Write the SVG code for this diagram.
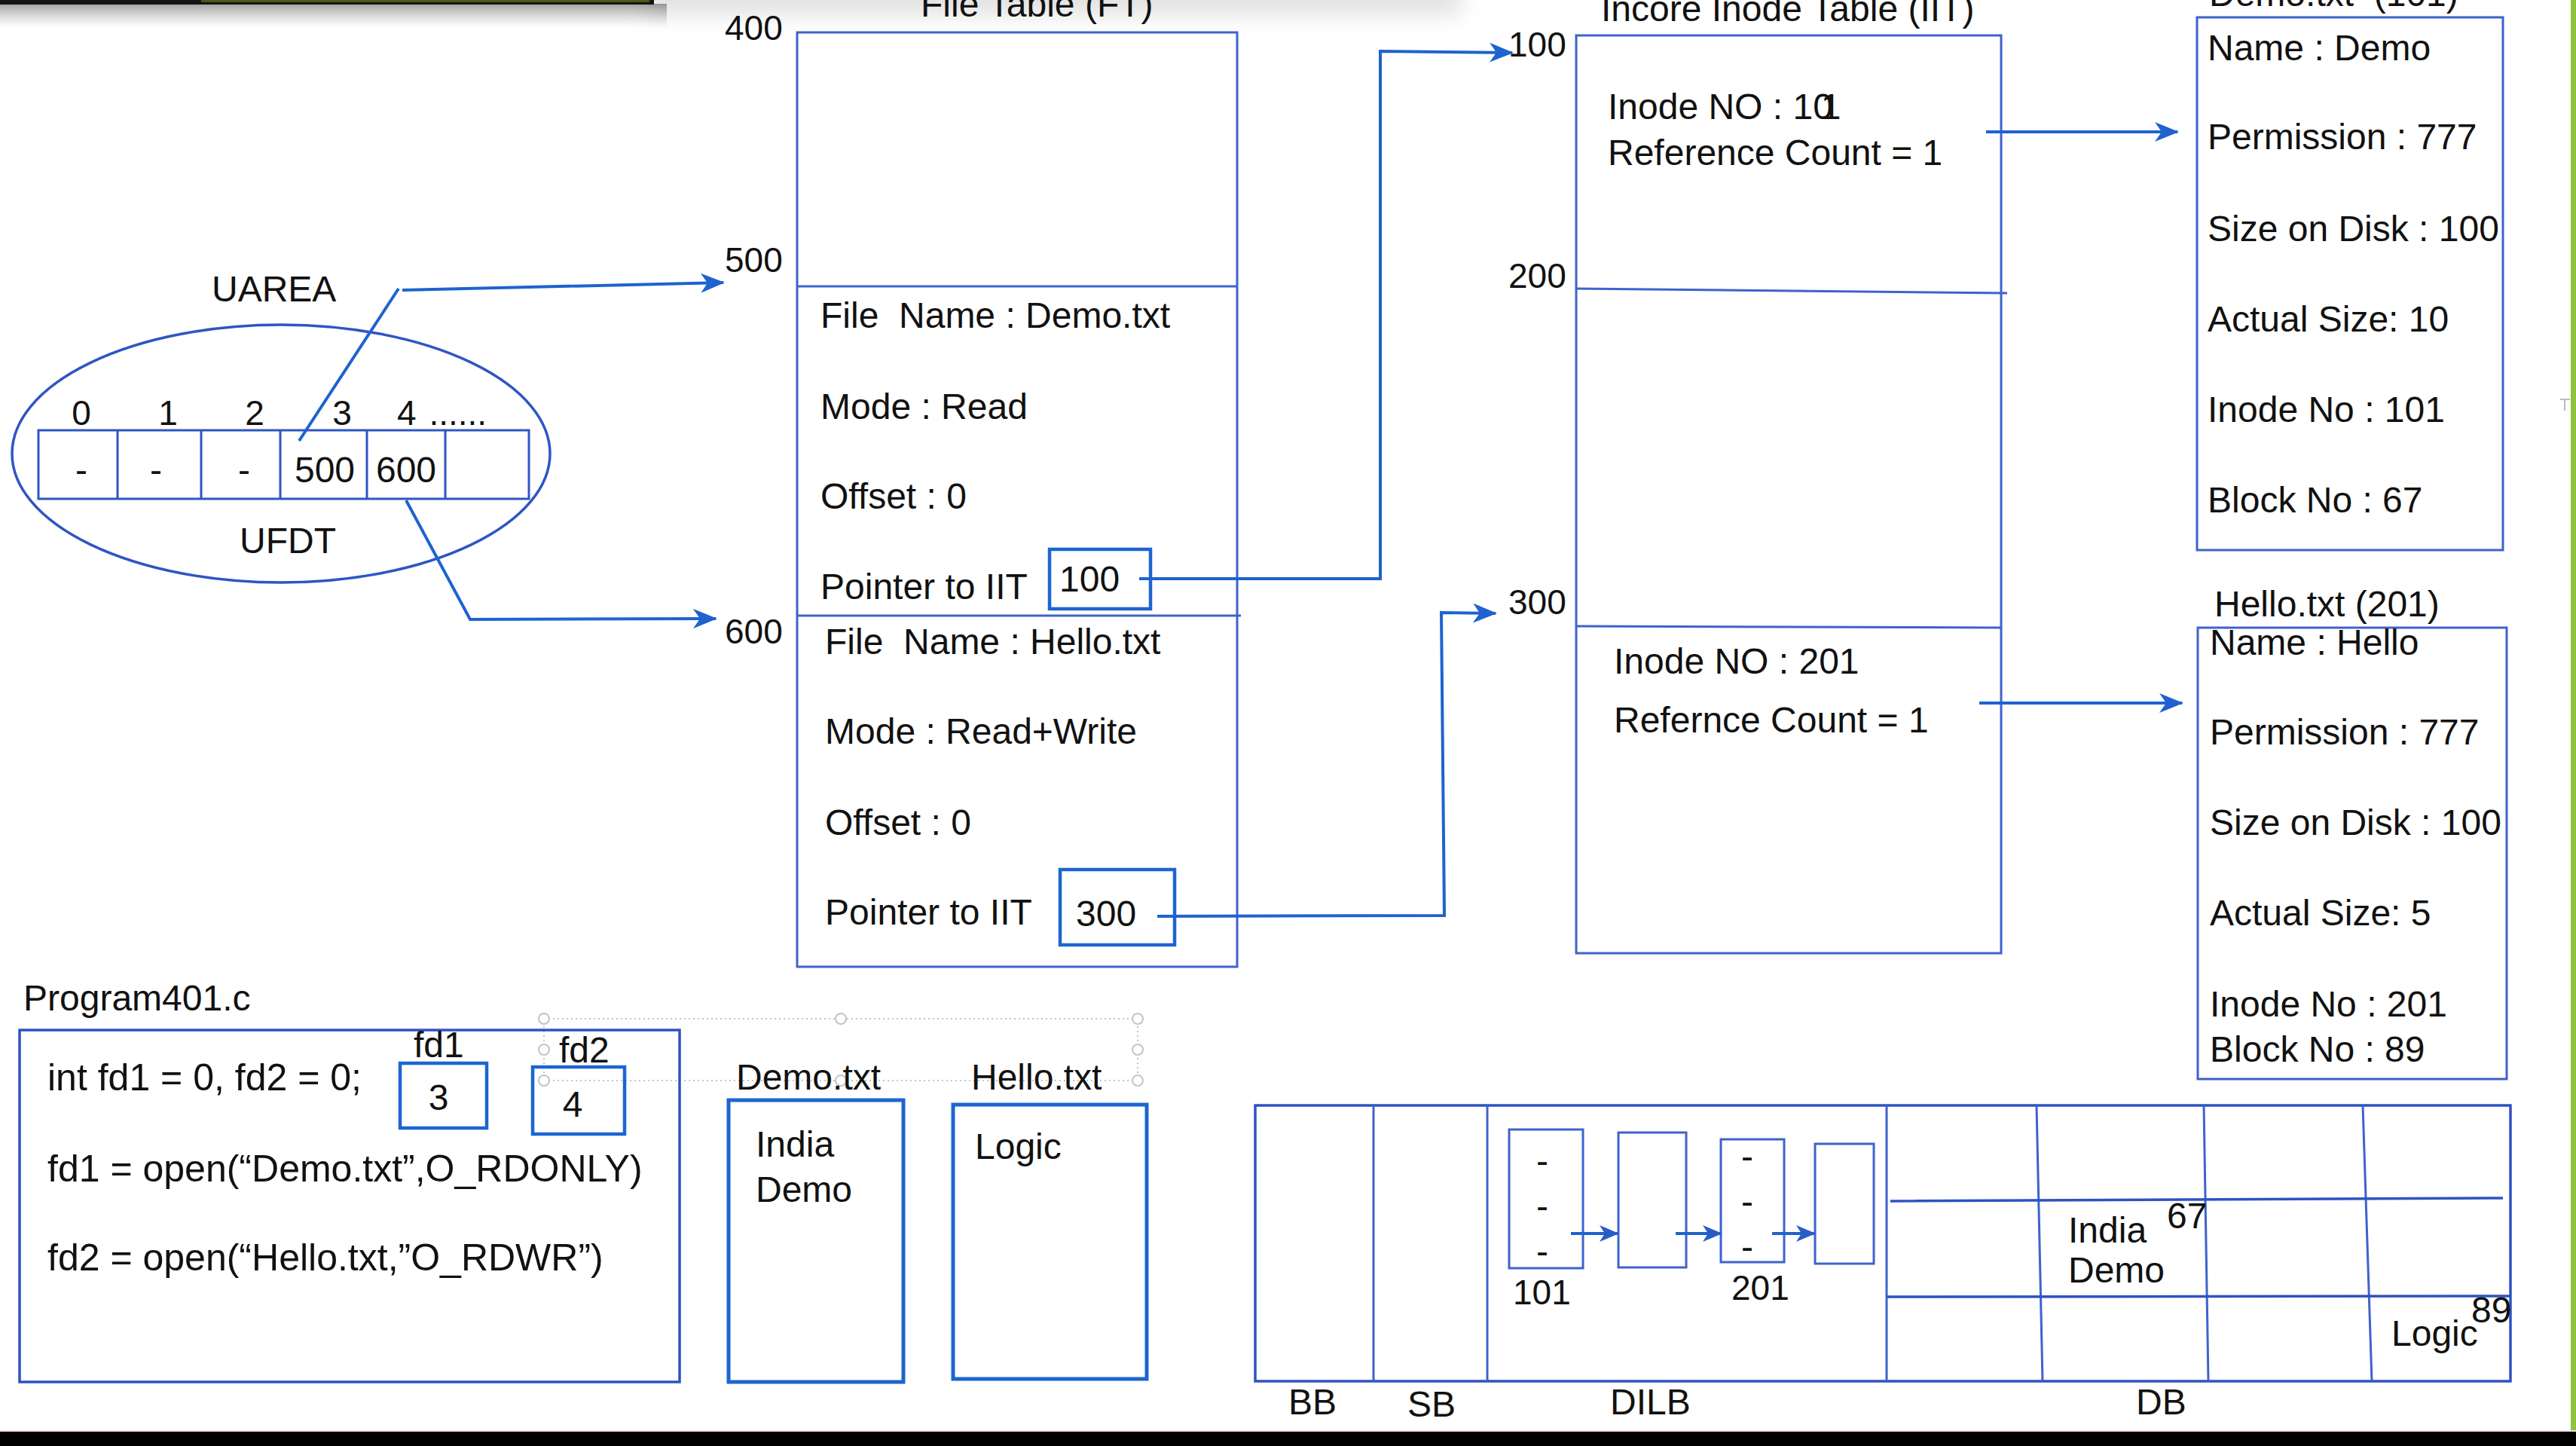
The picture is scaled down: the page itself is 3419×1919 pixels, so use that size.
<svg xmlns="http://www.w3.org/2000/svg" width="3419" height="1919" viewBox="0 0 3419 1919">
  <style>
    .t { font-family: "Liberation Sans", Arial, sans-serif; font-size: 48px; fill: #111; white-space: pre; }
    .s46 { font-size: 46px; }
    .s50 { font-size: 50px; }
    .mid { text-anchor: middle; }
    .box { fill: none; stroke: #3f62cc; stroke-width: 3; }
    .box-dark { fill: none; stroke: #2f52c2; stroke-width: 3.5; }
    .cell { fill: none; stroke: #2f55c4; stroke-width: 3; }
    .ptr { fill: none; stroke: #1c65d2; stroke-width: 4.5; }
    .fbox { fill: none; stroke: #1b66d0; stroke-width: 5; }
    .conn { fill: none; stroke: #1e63cf; stroke-width: 4; }
    .guide { fill: none; stroke: #c4c4c8; stroke-width: 2; stroke-dasharray: 2 4; }
    .handle { fill: #fff; stroke: #c4c4c8; stroke-width: 2; }
  </style>
  <defs>
    <marker id="arrow" markerUnits="userSpaceOnUse" markerWidth="32" markerHeight="26" viewBox="0 0 32 26" refX="30" refY="13" orient="auto">
      <path d="M0,0 L32,13 L0,26 L9,13 Z" fill="#1e63cf"/>
    </marker>
    <marker id="arrow-sm" markerUnits="userSpaceOnUse" markerWidth="26" markerHeight="22" viewBox="0 0 26 22" refX="24" refY="11" orient="auto">
      <path d="M0,0 L26,11 L0,22 L7,11 Z" fill="#2a5cc8"/>
    </marker>
    <linearGradient id="shadow" x1="0" y1="0" x2="0" y2="1">
      <stop offset="0" stop-color="#555" stop-opacity="0.55"/>
      <stop offset="1" stop-color="#999" stop-opacity="0"/>
    </linearGradient>
    <filter id="soft" x="-10%" y="-100%" width="120%" height="300%">
      <feGaussianBlur stdDeviation="14"/>
    </filter>
  </defs>

  <rect x="0" y="0" width="3419" height="1919" fill="#fff"/>

  <!-- window chrome around the canvas -->
  <g id="chrome">
    <rect x="860" y="-30" width="1080" height="50" fill="#cfcfcf" opacity="0.6" filter="url(#soft)"/>
    <rect x="0" y="5" width="885" height="32" fill="url(#shadow)"/>
    <rect x="0" y="0" width="868" height="6" fill="#141414"/>
    <rect x="267" y="0" width="595" height="3" fill="#4a5a16"/>
    <rect x="3412" y="0" width="7" height="1900" fill="#8cc43a"/>
    <path d="M3398,530 L3411,530 M3404,530 L3404,545" stroke="#bbb" stroke-width="2" fill="none"/>
    <rect x="0" y="1898" width="3419" height="2" fill="#f2dcea"/>
    <rect x="0" y="1900" width="3419" height="19" fill="#000"/>
  </g>

  <!-- selection outline left over from the drawing tool -->
  <g id="selection-guides">
    <rect class="guide" x="722" y="1352" width="788" height="82"/>
    <circle class="handle" cx="722" cy="1352" r="7"/>
    <circle class="handle" cx="1116" cy="1352" r="7"/>
    <circle class="handle" cx="1510" cy="1352" r="7"/>
    <circle class="handle" cx="1510" cy="1393" r="7"/>
    <circle class="handle" cx="1510" cy="1434" r="7"/>
    <circle class="handle" cx="722" cy="1393" r="7"/>
    <circle class="handle" cx="722" cy="1434" r="7"/>
    <circle class="handle" cx="1116" cy="1434" r="7"/>
  </g>

  <!-- per-process user area with the file descriptor table -->
  <g id="uarea">
    <text class="t" x="281" y="400">UAREA</text>
    <ellipse cx="373" cy="602" rx="357" ry="171" fill="none" stroke="#2f55c4" stroke-width="3.5"/>
    <rect class="cell" x="51" y="571" width="651" height="91"/>
    <path class="cell" d="M156,571 V662 M267,571 V662 M372,571 V662 M487,571 V662 M591,571 V662"/>
    <text class="t s46 mid" x="108" y="564">0</text>
    <text class="t s46 mid" x="223" y="564">1</text>
    <text class="t s46 mid" x="338" y="564">2</text>
    <text class="t s46 mid" x="454" y="564">3</text>
    <text class="t s46" x="527" y="564">4 <tspan dx="4">......</tspan></text>
    <text class="t mid" x="108" y="640">-</text>
    <text class="t mid" x="207" y="640">-</text>
    <text class="t mid" x="324" y="640">-</text>
    <text class="t mid" x="431" y="640">500</text>
    <text class="t mid" x="539" y="640">600</text>
    <text class="t" x="318" y="734">UFDT</text>
  </g>

  <!-- system-wide file table -->
  <g id="file-table">
    <text class="t" x="1222" y="22">File Table (FT)</text>
    <text class="t s46" x="962" y="53">400</text>
    <text class="t s46" x="962" y="361">500</text>
    <text class="t s46" x="962" y="854">600</text>
    <rect class="box" x="1058" y="43" width="584" height="1240"/>
    <path class="box" d="M1058,380 H1642 M1058,817 H1647"/>
    <text class="t" x="1089" y="435">File  Name : Demo.txt</text>
    <text class="t" x="1089" y="556">Mode : Read</text>
    <text class="t" x="1089" y="675">Offset : 0</text>
    <text class="t" x="1089" y="795">Pointer to IIT</text>
    <rect class="ptr" x="1393" y="729" width="134" height="79"/>
    <text class="t" x="1406" y="785">100</text>
    <text class="t" x="1095" y="868">File  Name : Hello.txt</text>
    <text class="t" x="1095" y="987">Mode : Read+Write</text>
    <text class="t" x="1095" y="1108">Offset : 0</text>
    <text class="t" x="1095" y="1227">Pointer to IIT</text>
    <rect class="ptr" x="1407" y="1154" width="152" height="100"/>
    <text class="t" x="1428" y="1229">300</text>
  </g>

  <!-- incore inode table -->
  <g id="iit">
    <text class="t" x="2125" y="28">Incore Inode Table (IIT)</text>
    <text class="t s46" x="2002" y="75">100</text>
    <text class="t s46" x="2002" y="382">200</text>
    <text class="t s46" x="2002" y="815">300</text>
    <rect class="box" x="2092" y="47" width="564" height="1218"/>
    <path class="box" d="M2092,383 L2664,389 M2092,831 L2656,833"/>
    <text class="t" x="2134" y="158">Inode NO : 10<tspan dx="-16">1</tspan></text>
    <text class="t" x="2134" y="219">Reference Count = 1</text>
    <text class="t" x="2142" y="894">Inode NO : 201</text>
    <text class="t" x="2142" y="972">Refernce Count = 1</text>
  </g>

  <!-- on-disk inode of Demo.txt -->
  <g id="inode-demo">
    <text class="t" x="2932" y="8">Demo.txt  (101)</text>
    <rect class="box" x="2916" y="23" width="406" height="707"/>
    <text class="t" x="2930" y="80">Name : Demo</text>
    <text class="t" x="2930" y="198">Permission : 777</text>
    <text class="t" x="2930" y="320">Size on Disk : 100</text>
    <text class="t" x="2930" y="440">Actual Size: 10</text>
    <text class="t" x="2930" y="560">Inode No : 101</text>
    <text class="t" x="2930" y="680">Block No : 67</text>
  </g>

  <!-- on-disk inode of Hello.txt -->
  <g id="inode-hello">
    <text class="t" x="2939" y="818">Hello.txt (201)</text>
    <rect class="box" x="2917" y="833" width="410" height="599"/>
    <text class="t" x="2933" y="869">Name : Hello</text>
    <text class="t" x="2933" y="988">Permission : 777</text>
    <text class="t" x="2933" y="1108">Size on Disk : 100</text>
    <text class="t" x="2933" y="1228">Actual Size: 5</text>
    <text class="t" x="2933" y="1349">Inode No : 201</text>
    <text class="t" x="2933" y="1409">Block No : 89</text>
  </g>

  <!-- the C program that opens both files -->
  <g id="program">
    <text class="t" x="31" y="1341">Program401.c</text>
    <rect class="box-dark" x="26" y="1367" width="876" height="467"/>
    <text class="t s50" x="63" y="1447">int fd1 = 0, fd2 = 0;</text>
    <text class="t s50" x="63" y="1568">fd1 = open(“Demo.txt”,O_RDONLY)</text>
    <text class="t s50" x="63" y="1686">fd2 = open(“Hello.txt,”O_RDWR”)</text>
    <text class="t" x="549" y="1403">fd1</text>
    <rect class="ptr" x="531" y="1411" width="115" height="86" stroke="#2a5cd0" stroke-width="4"/>
    <text class="t mid" x="582" y="1473">3</text>
    <text class="t" x="742" y="1410">fd2</text>
    <rect class="ptr" x="707" y="1416" width="122" height="89" stroke="#2a5cd0" stroke-width="4"/>
    <text class="t mid" x="760" y="1482">4</text>
  </g>

  <!-- file contents -->
  <g id="file-demo">
    <text class="t" x="977" y="1446">Demo.txt</text>
    <rect class="fbox" x="967" y="1460" width="232" height="374"/>
    <text class="t" x="1003" y="1535">India</text>
    <text class="t" x="1003" y="1595">Demo</text>
  </g>
  <g id="file-hello">
    <text class="t" x="1289" y="1446">Hello.txt</text>
    <rect class="fbox" x="1265" y="1466" width="257" height="364"/>
    <text class="t" x="1294" y="1538">Logic</text>
  </g>

  <!-- disk layout: boot block, super block, inode list, data blocks -->
  <g id="disk">
    <rect class="box-dark" x="1666" y="1467" width="1666" height="366"/>
    <path class="box" d="M1823,1467 V1833 M1974,1467 V1833 M2504,1467 V1833 M2703,1467 L2711,1833 M2925,1467 L2931,1833 M3136,1467 L3148,1833"/>
    <path class="box-dark" d="M2509,1594 L3322,1590 M2504,1721 L3332,1720"/>
    <rect class="box" x="2003" y="1499" width="98" height="184"/>
    <rect class="box" x="2148" y="1503" width="90" height="179"/>
    <rect class="box" x="2284" y="1512" width="84" height="163"/>
    <rect class="box" x="2409" y="1518" width="78" height="159"/>
    <text class="t mid" x="2047" y="1557">-</text>
    <text class="t mid" x="2047" y="1617">-</text>
    <text class="t mid" x="2047" y="1677">-</text>
    <text class="t mid" x="2319" y="1551">-</text>
    <text class="t mid" x="2319" y="1611">-</text>
    <text class="t mid" x="2319" y="1671">-</text>
    <text class="t s46" x="2008" y="1731">101</text>
    <text class="t s46" x="2298" y="1725">201</text>
    <text class="t" x="2745" y="1649">India</text>
    <text class="t" x="2745" y="1702">Demo</text>
    <text class="t" x="2876" y="1630">67</text>
    <text class="t" x="3174" y="1786">Logic</text>
    <text class="t" x="3280" y="1755">89</text>
    <text class="t" x="1710" y="1877">BB</text>
    <text class="t" x="1868" y="1880">SB</text>
    <text class="t" x="2137" y="1877">DILB</text>
    <text class="t" x="2835" y="1877">DB</text>
  </g>

  <!-- pointers between the tables -->
  <g id="connectors">
    <path class="conn" d="M397,585 L529,383 M534,385 L960,375" marker-end="url(#arrow)"/>
    <path class="conn" d="M539,664 L624,822 L950,821" marker-end="url(#arrow)"/>
    <path class="conn" d="M1512,768 L1832,768 L1832,68 L2007,70" marker-end="url(#arrow)"/>
    <path class="conn" d="M1536,1216 L1917,1215 L1913,813 L1985,814" marker-end="url(#arrow)"/>
    <path class="conn" d="M2636,175 L2890,175" marker-end="url(#arrow)"/>
    <path class="conn" d="M2627,933 L2896,933" marker-end="url(#arrow)"/>
    <path class="conn" d="M2085,1637 L2147,1637" stroke="#2a5cc8" marker-end="url(#arrow-sm)"/>
    <path class="conn" d="M2224,1637 L2284,1637" stroke="#2a5cc8" marker-end="url(#arrow-sm)"/>
    <path class="conn" d="M2352,1637 L2408,1637" stroke="#2a5cc8" marker-end="url(#arrow-sm)"/>
  </g>
</svg>
